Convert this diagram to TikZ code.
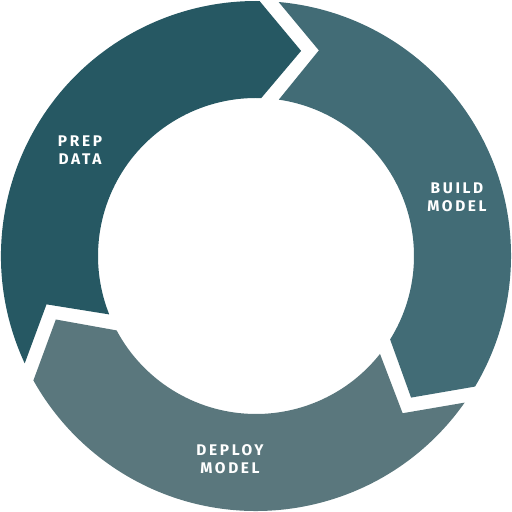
\documentclass[tikz,border=0pt]{standalone}
\usepackage{fontspec}
\newfontfamily\lblfont{Fira Sans}[LetterSpace=17]
\definecolor{prepcol}{RGB}{38,88,99}
\definecolor{buildcol}{RGB}{66,108,118}
\definecolor{deploycol}{RGB}{90,119,125}
\tikzset{
  lbl/.style={text=white, align=center, font=\lblfont\bfseries\fontsize{15.5}{18.5}\selectfont, inner sep=0pt}
}
\newcommand{\cycseg}[3]{% tail angle, head angle, colour
  \fill[#3] ({90-#1-5.1}:255) arc[start angle={90-#1-5.1}, end angle={90-#2-0.8}, radius=255]
    -- ({90-#2-12.4}:210) -- ({90-#2-1.9}:158)
    arc[start angle={90-#2-1.9}, end angle={90-#1-8.3}, radius=158]
    -- ({90-#1-17}:215) -- cycle;
}
\begin{document}
\begin{tikzpicture}[x=1bp,y=1bp]
\useasboundingbox (0,0) rectangle (512,512);
\begin{scope}[shift={(256,256)}]
\cycseg{240}{360}{prepcol}
\cycseg{0}{120}{buildcol}
\cycseg{120}{240}{deploycol}
\end{scope}
\node[lbl] (prep) at (80,362) {PREP\\DATA};
\node[lbl] (build) at (457,314.5) {BUILD\\MODEL};
\node[lbl] (deploy) at (230,53) {DEPLOY\\MODEL};
\end{tikzpicture}
\end{document}
